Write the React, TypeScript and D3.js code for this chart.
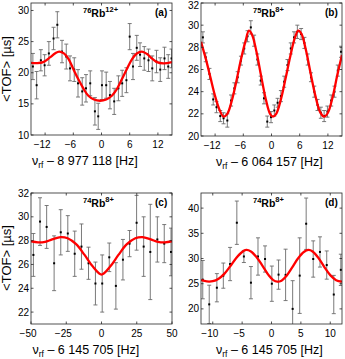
import React from "react";
import * as d3 from "d3";

// panel (a) 76Rb12+
const aX = [-14.6, -13.8, -12.9, -12.1, -11.2, -10.2, -9.4, -8.4, -7.5, -6.7, -5.8, -5.0, -4.1, -3.3, -2.4, -1.4, -0.7, 0.1, 1.0, 1.8, 2.7, 3.6, 4.4, 5.3, 6.0, 6.7, 7.5, 8.2, 9.1, 10.0, 10.8, 11.7, 12.5, 13.4, 14.2, 14.9];
const aY = [21.0, 18.0, 22.0, 21.2, 23.1, 25.5, 27.7, 23.4, 22.6, 20.7, 20.5, 18.3, 17.0, 17.5, 18.3, 13.8, 13.0, 18.0, 18.0, 16.4, 15.4, 17.5, 18.3, 18.8, 25.8, 21.0, 24.0, 22.9, 22.3, 22.0, 20.7, 21.8, 20.5, 22.3, 21.0, 22.3];
const aErr = [2.1, 2.2, 1.7, 1.7, 1.9, 1.8, 2.1, 1.8, 2.0, 2.0, 1.9, 2.2, 2.2, 2.2, 2.0, 2.2, 2.1, 2.3, 2.1, 2.2, 2.1, 2.0, 2.1, 2.0, 2.1, 2.1, 2.0, 1.9, 1.9, 1.8, 2.0, 1.8, 1.9, 1.8, 1.9, 1.5];
const aFitX = [-15, -13.8, -12.4, -10.9, -9.9, -9.0, -8.0, -7.0, -6.0, -4.9, -3.8, -2.8, -1.6, -0.3, 1.0, 2.2, 3.3, 4.3, 5.4, 6.5, 7.5, 8.6, 9.7, 10.7, 11.8, 13.2, 15];
const aFitY = [21.6, 21.55, 21.7, 22.5, 23.1, 23.4, 23.1, 22.2, 20.6, 18.9, 17.4, 16.3, 15.7, 15.5, 15.7, 16.3, 17.4, 18.9, 20.6, 22.2, 23.1, 23.4, 23.0, 22.3, 21.7, 21.5, 21.7];

// panel (b) 75Rb8+
const bX = [-14.6, -14.0, -13.2, -12.4, -11.7, -10.9, -10.2, -9.4, -8.6, -7.9, -7.2, -6.5, -5.8, -5.1, -4.4, -3.7, -3.0, -2.3, -1.6, -0.9, -0.1, 0.6, 1.3, 2.0, 2.7, 3.4, 4.1, 4.8, 5.5, 6.3, 7.0, 7.7, 8.4, 9.1, 9.8, 10.5, 11.2, 11.9, 12.7, 13.4, 14.1, 14.8];
const bY = [28.9, 27.1, 25.6, 23.3, 22.6, 21.8, 21.6, 21.4, 23.2, 24.3, 25.3, 26.8, 27.9, 29.0, 29.8, 28.6, 26.9, 25.0, 23.4, 21.3, 21.7, 22.3, 23.0, 23.6, 24.9, 26.4, 27.9, 28.9, 29.4, 29.2, 28.4, 26.9, 25.3, 24.0, 22.8, 22.1, 21.8, 22.2, 23.2, 24.0, 25.9, 27.6];
const bErr = [0.5, 0.4, 0.5, 0.5, 0.5, 0.5, 0.5, 0.6, 0.5, 0.5, 0.5, 0.4, 0.5, 0.5, 0.6, 0.5, 0.5, 0.4, 0.5, 0.5, 0.5, 0.5, 0.4, 0.5, 0.5, 0.5, 0.5, 0.5, 0.6, 0.5, 0.5, 0.5, 0.4, 0.5, 0.5, 0.5, 0.5, 0.5, 0.5, 0.5, 0.5, 0.5];
const bFitX = [-15, -14, -13, -12, -11, -10.2, -9.4, -8.5, -7.5, -6.5, -5.5, -4.8, -4.1, -3.2, -2.2, -1.2, -0.3, 0.3, 1.0, 2.0, 3.0, 4.0, 5.0, 5.7, 6.4, 7.3, 8.3, 9.3, 10.3, 11.2, 12.0, 13.0, 14.0, 15.0];
const bFitY = [28.5, 27.0, 25.3, 23.6, 22.3, 21.75, 22.0, 23.1, 24.9, 26.9, 28.6, 29.5, 29.1, 27.6, 25.4, 23.3, 22.0, 21.75, 22.0, 23.3, 25.2, 27.2, 28.9, 29.5, 29.2, 27.8, 25.7, 23.7, 22.2, 21.75, 22.1, 23.5, 25.5, 27.3];

// panel (c) 74Rb8+
const cX = [-48.3, -43.6, -38.9, -33.6, -28.9, -23.9, -19.0, -14.2, -9.2, -4.3, 0.5, 5.5, 10.2, 15.2, 19.9, 24.9, 29.9, 34.6, 39.6, 44.5, 49.3];
const cY = [26.8, 29.6, 29.15, 26.1, 28.7, 28.6, 26.9, 27.5, 26.1, 24.4, 24.4, 26.6, 24.2, 26.4, 27.75, 29.5, 27.5, 27.05, 28.1, 27.75, 27.05];
const cErr = [1.8, 2.0, 1.8, 2.3, 1.9, 1.5, 1.9, 1.9, 1.35, 1.8, 2.4, 1.2, 1.95, 1.7, 1.1, 2.3, 2.5, 4.0, 1.9, 1.6, 2.0];
const cFitX = [-50, -45, -40, -35, -29, -24, -18, -12, -6, 0, 6, 12, 18, 24, 29, 35, 40, 45, 50];
const cFitY = [27.95, 27.85, 27.9, 28.1, 28.3, 28.2, 27.7, 26.8, 25.8, 25.15, 25.8, 26.8, 27.7, 28.2, 28.3, 28.1, 27.9, 27.85, 27.95];

// panel (d) 74Rb8+
const dX = [-11.7, -10.6, -9.3, -8.2, -7.05, -5.9, -4.7, -3.5, -2.3, -1.1, 0.06, 1.2, 2.4, 3.6, 4.8, 5.9, 7.1, 8.25, 9.4, 10.6, 11.8];
const dY = [25.8, 20.9, 24.2, 26.6, 28.9, 37.1, 30.4, 25.2, 30.4, 29.9, 25.0, 26.8, 26.75, 20.0, 26.6, 36.9, 29.9, 31.3, 28.7, 22.85, 27.75];
const dErr = [3.8, 3.8, 2.8, 2.5, 3.3, 4.3, 1.2, 3.2, 3.7, 2.6, 3.5, 2.9, 5.1, 5.6, 7.5, 5.1, 3.6, 3.0, 2.8, 3.8, 3.1];
const dFitX = [-12, -11, -10, -9, -8, -7, -6, -5, -4.3, -3.5, -2.5, -1.5, -0.5, 0.3, 1, 1.7, 2.5, 3.5, 4.5, 5.5, 6.3, 7, 8, 9, 10, 11, 12];
const dFitY = [25.7, 25.45, 25.5, 26.0, 27.0, 28.5, 30.1, 31.3, 31.7, 31.4, 30.2, 28.5, 26.7, 25.7, 25.4, 25.6, 26.5, 28.2, 30.0, 31.3, 31.7, 31.4, 30.1, 28.3, 26.7, 25.7, 25.4];

const abTicksX = [-12, -6, 0, 6, 12];
const cTicksX = [-50, -25, 0, 25, 50];
const dTicksX = [-10, -5, 0, 5, 10];
const aTicksY = [10, 15, 20, 25, 30];
const bTicksY = [20, 22, 24, 26, 28, 30, 32];
const cTicksY = [22, 24, 26, 28, 30, 32];
const dTicksY = [20, 25, 30, 35, 40];

const FONT = "'Liberation Sans', Arial, Helvetica, sans-serif";

const panels = [
  { id: "a", box: [31, 172, 3, 135], xd: [-15, 15], yd: [10, 31.2], xs: aX, ys: aY, es: aErr, fx: aFitX, fy: aFitY, xt: abTicksX, yt: aTicksY, mass: "76", charge: "12+", freq: "8 977 118", lab: [32, 122] },
  { id: "b", box: [201, 342, 3, 136], xd: [-15, 15], yd: [20, 32], xs: bX, ys: bY, es: bErr, fx: bFitX, fy: bFitY, xt: abTicksX, yt: bTicksY, mass: "75", charge: "8+", freq: "6 064 157", lab: [216, 108] },
  { id: "c", box: [31, 172, 193, 324], xd: [-50, 50], yd: [21, 32], xs: cX, ys: cY, es: cErr, fx: cFitX, fy: cFitY, xt: cTicksX, yt: cTicksY, mass: "74", charge: "8+", freq: "6 145 705", lab: [32.5, 122] },
  { id: "d", box: [201, 342, 193, 324], xd: [-12, 12], yd: [17, 43], xs: dX, ys: dY, es: dErr, fx: dFitX, fy: dFitY, xt: dTicksX, yt: dTicksY, mass: "74", charge: "8+", freq: "6 145 705", lab: [216, 109] },
];

function Panel({ p }: { p: any }) {
  const [l, r, t, b] = p.box;
  const x = d3.scaleLinear().domain(p.xd).range([l, r]);
  const y = d3.scaleLinear().domain(p.yd).range([b, t]);
  const line = d3
    .line<number>()
    .x((d, i) => x(p.fx[i]))
    .y((d) => y(d))
    .curve(d3.curveCatmullRom.alpha(0.5));
  const clipId = "clip-" + p.id;
  const tickFs = 10;
  const digitW = 0.556 * tickFs;
  const cap = 2;
  return (
    <g>
      <defs>
        <clipPath id={clipId}>
          <rect x={l} y={t} width={r - l} height={b - t} />
        </clipPath>
      </defs>
      <g clipPath={`url(#${clipId})`}>
        {p.xs.map((xv: number, i: number) => {
          const cx = x(xv);
          const y0 = y(p.ys[i] - p.es[i]);
          const y1 = y(p.ys[i] + p.es[i]);
          return (
            <g key={i} stroke="#6b6b6b" strokeWidth={0.9}>
              <line x1={cx} x2={cx} y1={y0} y2={y1} />
              <line x1={cx - cap} x2={cx + cap} y1={y0} y2={y0} />
              <line x1={cx - cap} x2={cx + cap} y1={y1} y2={y1} />
            </g>
          );
        })}
        {p.xs.map((xv: number, i: number) => (
          <rect key={i} x={x(xv) - 1} y={y(p.ys[i]) - 1} width={2} height={2} fill="#000" />
        ))}
        <path d={line(p.fy) || ""} fill="none" stroke="#f00" strokeWidth={2.3} />
      </g>
      <rect x={l} y={t} width={r - l} height={b - t} fill="none" stroke="#262626" strokeWidth={0.8} />
      {p.xt.map((v: number) => (
        <g key={"xt" + v} stroke="#262626" strokeWidth={0.8}>
          <line x1={x(v)} x2={x(v)} y1={b} y2={b - 2.5} />
          <line x1={x(v)} x2={x(v)} y1={t} y2={t + 2.5} />
        </g>
      ))}
      {p.yt.map((v: number) => (
        <g key={"yt" + v} stroke="#262626" strokeWidth={0.8}>
          <line x1={l} x2={l + 2.5} y1={y(v)} y2={y(v)} />
          <line x1={r} x2={r - 2.5} y1={y(v)} y2={y(v)} />
        </g>
      ))}
      {p.xt.map((v: number) => {
        const s = String(Math.abs(v));
        const neg = v < 0;
        return (
          <text
            key={"xl" + v}
            x={neg ? x(v) + (s.length * digitW) / 2 : x(v)}
            y={b + 13}
            textAnchor={neg ? "end" : "middle"}
            fontSize={tickFs}
            fontFamily={FONT}
            fill="#000"
          >
            {neg ? "\u2212" + s : s}
          </text>
        );
      })}
      {p.yt.map((v: number) => (
        <text key={"yl" + v} x={l - 2} y={Math.max(y(v) + 3.6, 8.5)} textAnchor="end" fontSize={tickFs} fontFamily={FONT} fill="#000">
          {v}
        </text>
      ))}
      <text x={l + 52} y={t + 14} fontFamily={FONT} fontWeight="bold" fontSize={10.5} fill="#000">
        <tspan fontSize={7.5} dy={-4}>{p.mass}</tspan>
        <tspan dy={4}>Rb</tspan>
        <tspan fontSize={7.5} dy={-5}>{p.charge}</tspan>
      </text>
      <text x={r - 17} y={t + 13} fontFamily={FONT} fontWeight="bold" fontSize={10} fill="#000">
        ({p.id})
      </text>
      <text x={p.lab[0]} y={b + 29.5} fontFamily={FONT} fontSize={12.5} fill="#000">
        <tspan>ν</tspan>
        <tspan fontSize={8.5} dy={3}>rf</tspan>
        <tspan dy={-3}>{" \u2013 " + p.freq + " [Hz]"}</tspan>
      </text>
    </g>
  );
}

export default function App() {
  return (
    <svg width={345} height={359} style={{ position: "absolute", left: 0, top: 0, background: "#fff" }}>
      {panels.map((p) => (
        <Panel key={p.id} p={p} />
      ))}
      <text transform="translate(11,69) rotate(-90)" textAnchor="middle" fontFamily={FONT} fontSize={13} fill="#000">
        {"<TOF> [µs]"}
      </text>
      <text transform="translate(11,258) rotate(-90)" textAnchor="middle" fontFamily={FONT} fontSize={13} fill="#000">
        {"<TOF> [µs]"}
      </text>
    </svg>
  );
}
